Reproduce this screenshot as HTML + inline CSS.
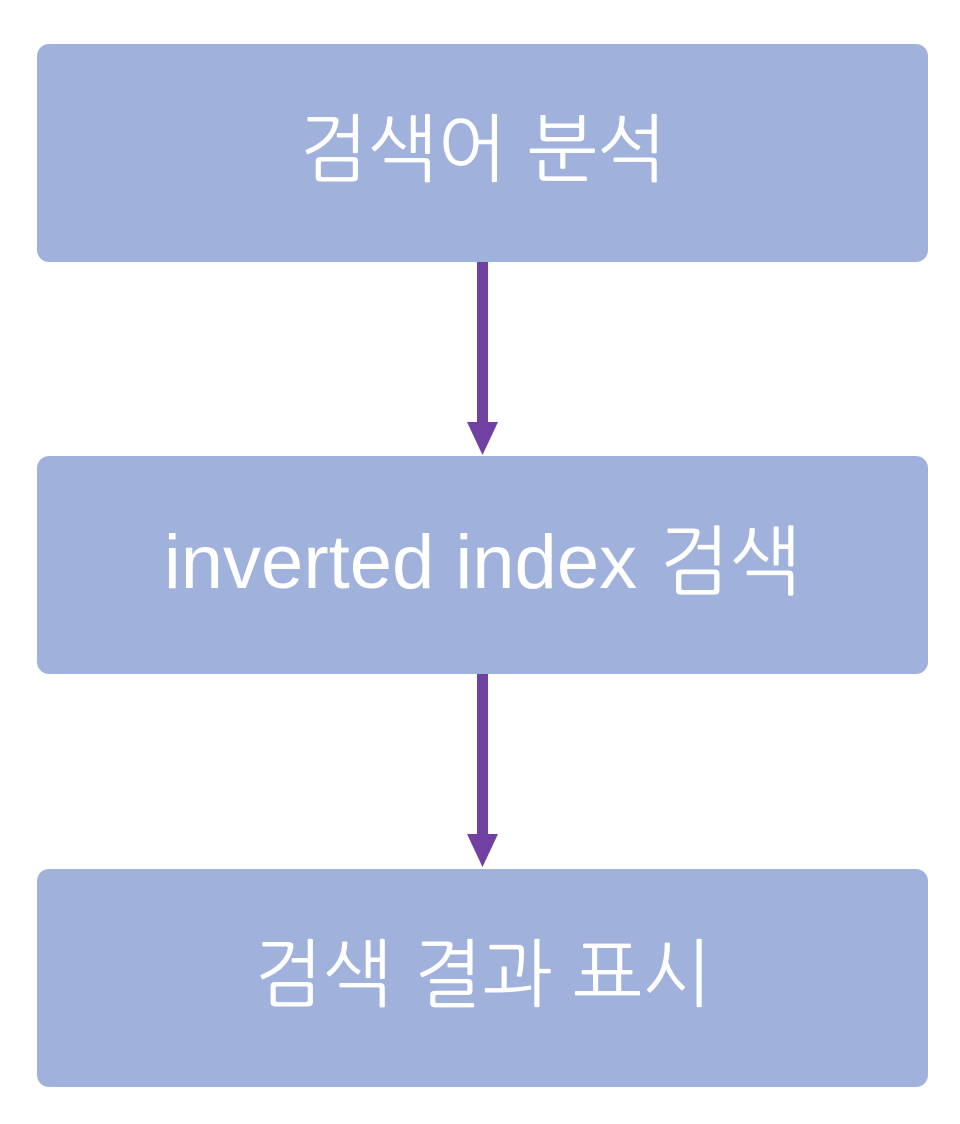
<!DOCTYPE html>
<html><head><meta charset="utf-8"><style>
body{margin:0;width:960px;height:1124px;background:#fff;position:relative;overflow:hidden;font-family:"Liberation Sans","NanumGothic","Noto Sans CJK KR",sans-serif}
.b{position:absolute;left:37px;width:891px;height:218px;box-sizing:border-box;padding-bottom:8px;background:#a0b2dc;border-radius:12px;color:#fff;display:flex;align-items:center;justify-content:center;font-size:74px;white-space:nowrap}
</style></head><body>
<div class="b" style="top:44px">검색어 분석</div>
<div class="b" style="top:456px;font-size:76px">inverted index 검색</div>
<div class="b" style="top:869px">검색 결과 표시</div>
<svg width="960" height="1124" style="position:absolute;left:0;top:0">
<g fill="#7040a2">
<rect x="477" y="262" width="11" height="164"/>
<polygon points="467,422 498,422 482.5,455"/>
<rect x="477" y="674" width="11" height="164"/>
<polygon points="467,834 498,834 482.5,867"/>
</g></svg>
</body></html>
